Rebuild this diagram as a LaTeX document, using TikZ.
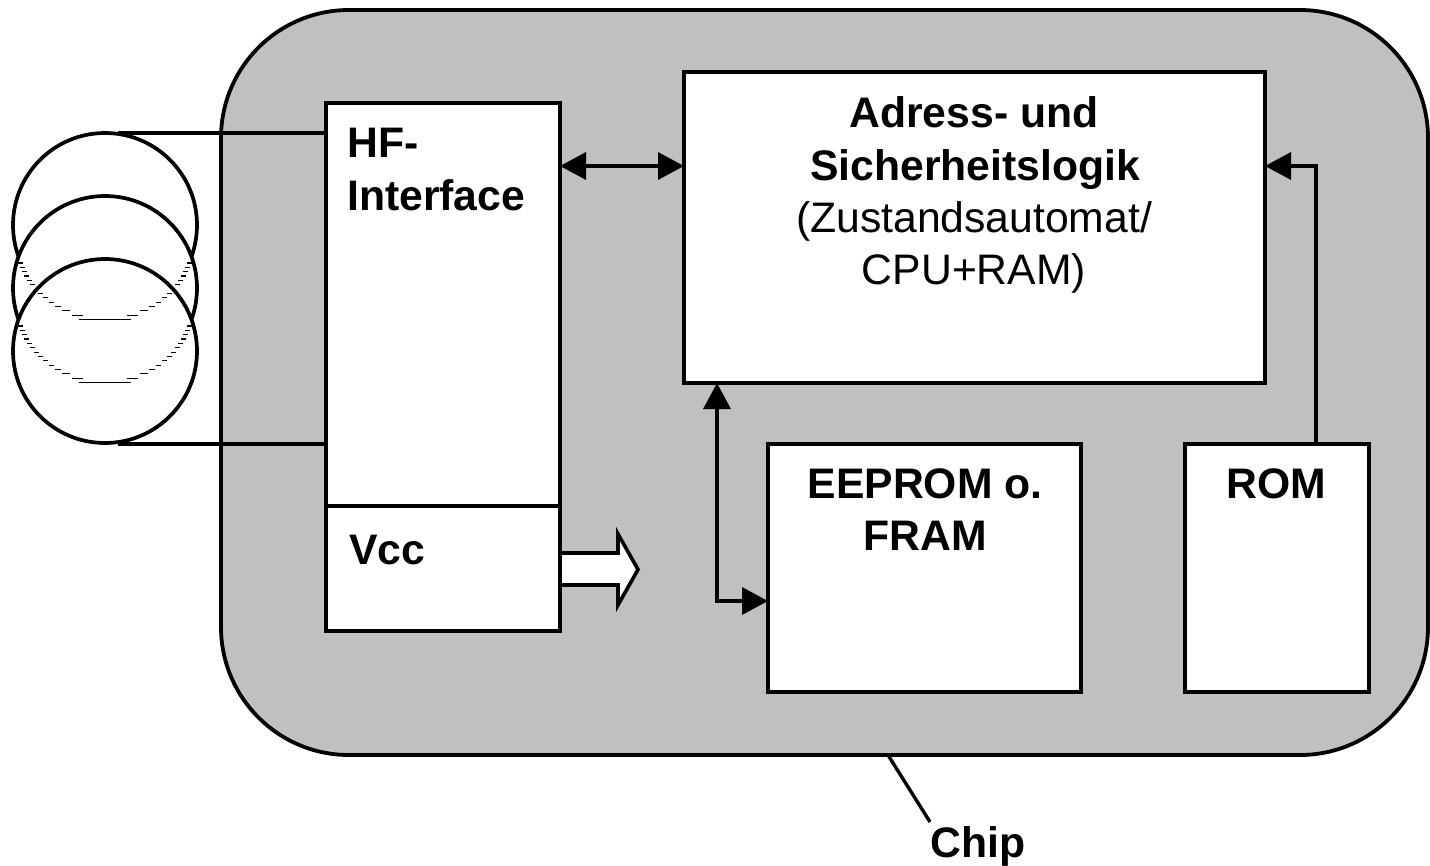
\documentclass[tikz,border=0pt]{standalone}
\usepackage{fontspec}
\setmainfont{Liberation Sans}
\usetikzlibrary{arrows.meta}
\definecolor{chipgrey}{RGB}{192,192,192}
\tikzset{
  x=1pt,y=-1pt,
  ln/.style={line width=3.8pt,draw=black},
  boxnode/.style={ln,fill=white,rectangle,inner sep=0pt,outer sep=0pt,anchor=north west},
  coil/.style={line width=3.7pt,draw=black,fill=white},
  conn/.style={line width=3.4pt,draw=black},
  tip/.style={-{Triangle[length=26pt,width=27pt,fill=black]}},
  ttip/.style={{Triangle[length=26pt,width=27pt,fill=black]}-{Triangle[length=26pt,width=27pt,fill=black]}},
  lbl/.style={font=\fontsize{42.7}{42.7}\selectfont,inner sep=0pt,anchor=base},
  lbb/.style={font=\fontsize{42.7}{42.7}\selectfont\bfseries,inner sep=0pt,anchor=base},
  lbw/.style={lbb,anchor=base west},
  hid/.style={line width=1.1pt,draw=black}
}
\begin{document}
\begin{tikzpicture}
\useasboundingbox (0,0) rectangle (1430,865);
% chip
\node[ln,fill=chipgrey,rectangle,rounded corners=128pt,inner sep=0pt,outer sep=0pt,anchor=north west,minimum width=1207pt,minimum height=745pt] (chip) at (221,10) {};
% coils
\foreach \n/\cy in {a/225,b/288,c/351}{
  \node[coil,circle,inner sep=0pt,outer sep=0pt,minimum size=184pt] (coil\n) at (105,\cy) {};
}
% remnant hairlines of the hidden circle parts
\foreach \cy in {225,288}{
  \foreach \k in {0,...,13}{
    \pgfmathsetmacro\yy{\cy+94.5-\k*4.35}
    \pgfmathsetmacro\da{max(\k*4.35-1.8,0)}
    \pgfmathsetmacro\db{\k*4.35+(\k==0?3.7:1.8)}
    \pgfmathsetmacro\wa{sqrt(92*92-(92-\da)*(92-\da))}
    \pgfmathsetmacro\wb{sqrt(92*92-(92-\db)*(92-\db))}
    \pgfmathsetmacro\wm{(\wa+\wb)/2}
    \pgfmathsetmacro\wh{max((\wb-\wa)/2,2.5)}
    \draw[hid] (105-\wm-\wh,\yy) -- (105-\wm+\wh,\yy);
    \draw[hid] (105+\wm-\wh,\yy) -- (105+\wm+\wh,\yy);
  }
}
% boxes
\node[boxnode,minimum width=234pt,minimum height=403pt] (hf) at (326,103) {};
\node[boxnode,minimum width=234pt,minimum height=125pt] (vcc) at (326,506) {};
\node[boxnode,minimum width=581pt,minimum height=311pt] (logic) at (684,72) {};
\node[boxnode,minimum width=313pt,minimum height=248pt] (eeprom) at (768,444) {};
\node[boxnode,minimum width=184pt,minimum height=248pt] (rom) at (1185,444) {};
% coil leads
\coordinate (leadt) at (118,133);
\coordinate (leadb) at (118,444);
\draw[conn] (leadt) -- (hf.west |- leadt);
\draw[conn] (leadb) -- (hf.west |- leadb);
% connectors
\coordinate (busy) at (0,166);
\draw[conn,ttip] (hf.east |- busy) -- (logic.west |- busy);
\coordinate (romx) at (1316,0);
\draw[conn,tip] (rom.north -| romx) -- (romx |- busy) -- (logic.east |- busy);
\coordinate (busx) at (717,0);
\coordinate (eey) at (0,601);
\draw[conn,ttip] (busx |- logic.south) -- (busx |- eey) -- (eeprom.west |- eey);
% Vcc output arrow
\fill[white] (562,553) -- (618,553) -- (618,534) -- (638,569.5) -- (618,605) -- (618,585) -- (562,585) -- cycle;
\draw[line width=3.6pt,line join=miter,black] (vcc.east |- 0,553) -- (618,553) -- (618,534) -- (638,569.5) -- (618,605) -- (618,585) -- (vcc.east |- 0,585);
% labels
\node[lbw] (t1) at (347,157) {HF-};
\node[lbw] (t2) at (347,210) {Interface};
\node[lbw] (t3) at (349,564) {Vcc};
\node[lbb] (t4) at (974,127) {Adress- und};
\node[lbb] (t5) at (975,180) {Sicherheitslogik};
\node[lbl] (t6) at (974,232) {(Zustandsautomat/};
\node[lbl] (t7) at (974,284) {CPU+RAM)};
\node[lbb] (t8) at (925,498) {EEPROM o.};
\node[lbb] (t9) at (925,550) {FRAM};
\node[lbb] (t10) at (1276,498) {ROM};
\node[lbw] (chiplabel) at (930,857) {Chip};
\coordinate (ptr) at (888,755);
\coordinate (ptrend) at (930,822);
\draw[conn] (ptr) -- (ptrend);
\end{tikzpicture}
\end{document}
